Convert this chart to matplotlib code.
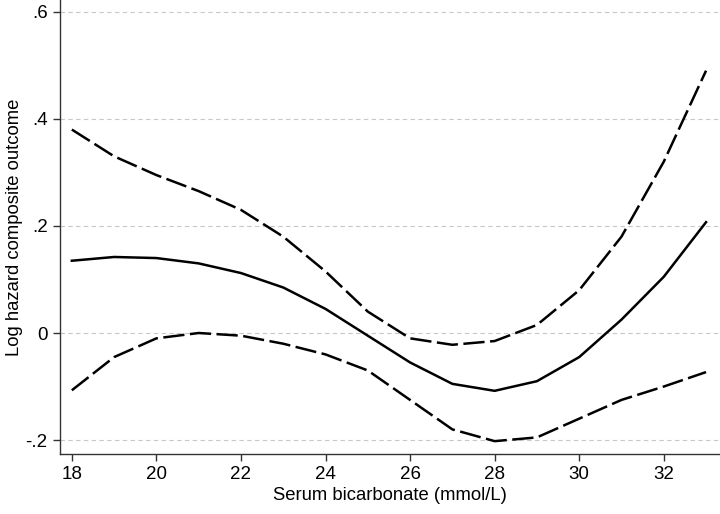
import matplotlib
matplotlib.use("Agg")
import matplotlib.pyplot as plt
import numpy as np

bicarb = [18, 19, 20, 21, 22, 23, 24, 25, 26, 27, 28, 29, 30, 31, 32, 33]
log_hazard = [0.135, 0.142, 0.140, 0.130, 0.112, 0.085, 0.045, -0.005, -0.055, -0.095, -0.108, -0.090, -0.045, 0.025, 0.105, 0.207]
upper_ci = [0.380, 0.330, 0.295, 0.265, 0.230, 0.180, 0.115, 0.040, -0.010, -0.022, -0.015, 0.015, 0.080, 0.180, 0.320, 0.490]
lower_ci = [-0.107, -0.045, -0.010, 0.000, -0.005, -0.020, -0.040, -0.070, -0.125, -0.180, -0.202, -0.195, -0.160, -0.125, -0.100, -0.073]

x_ticks = [18, 20, 22, 24, 26, 28, 30, 32]
y_ticks = [-0.2, 0, 0.2, 0.4, 0.6]
y_tick_labels = ["-.2", "0", ".2", ".4", ".6"]

plt.rcParams['font.family'] = ['Liberation Sans', 'DejaVu Sans']

fig = plt.figure(figsize=(7.2, 5.14), dpi=100)
ax = fig.add_axes([60/720, 60/514, 660/720, 454/514])

ax.plot(bicarb, log_hazard, color='black', lw=1.8, solid_joinstyle='round')
ax.plot(bicarb, upper_ci, color='black', lw=1.8, dashes=(8.5, 2.2))
ax.plot(bicarb, lower_ci, color='black', lw=1.8, dashes=(8.5, 2.2))

ax.set_xlim(17.72, 33.33)
ax.set_ylim(-0.226, 0.622)
ax.set_xticks(x_ticks)
ax.set_yticks(y_ticks)
ax.set_yticklabels(y_tick_labels)
ax.yaxis.grid(True, color='#c8c8c8', linestyle=(0, (4, 3)), lw=0.8)
ax.set_axisbelow(True)

for s in ['top', 'right']:
    ax.spines[s].set_visible(False)
for s in ['left', 'bottom']:
    ax.spines[s].set_color('#333333')
    ax.spines[s].set_linewidth(1.0)
ax.tick_params(axis='both', direction='out', length=5, width=1, color='#333333', labelsize=13.5)
ax.tick_params(axis='y', pad=4)

ax.set_xlabel('Serum bicarbonate (mmol/L)', fontsize=13.3, labelpad=3)
ax.set_ylabel('Log hazard composite outcome', fontsize=13.3, labelpad=2)

fig.savefig('out.png', dpi=100)
